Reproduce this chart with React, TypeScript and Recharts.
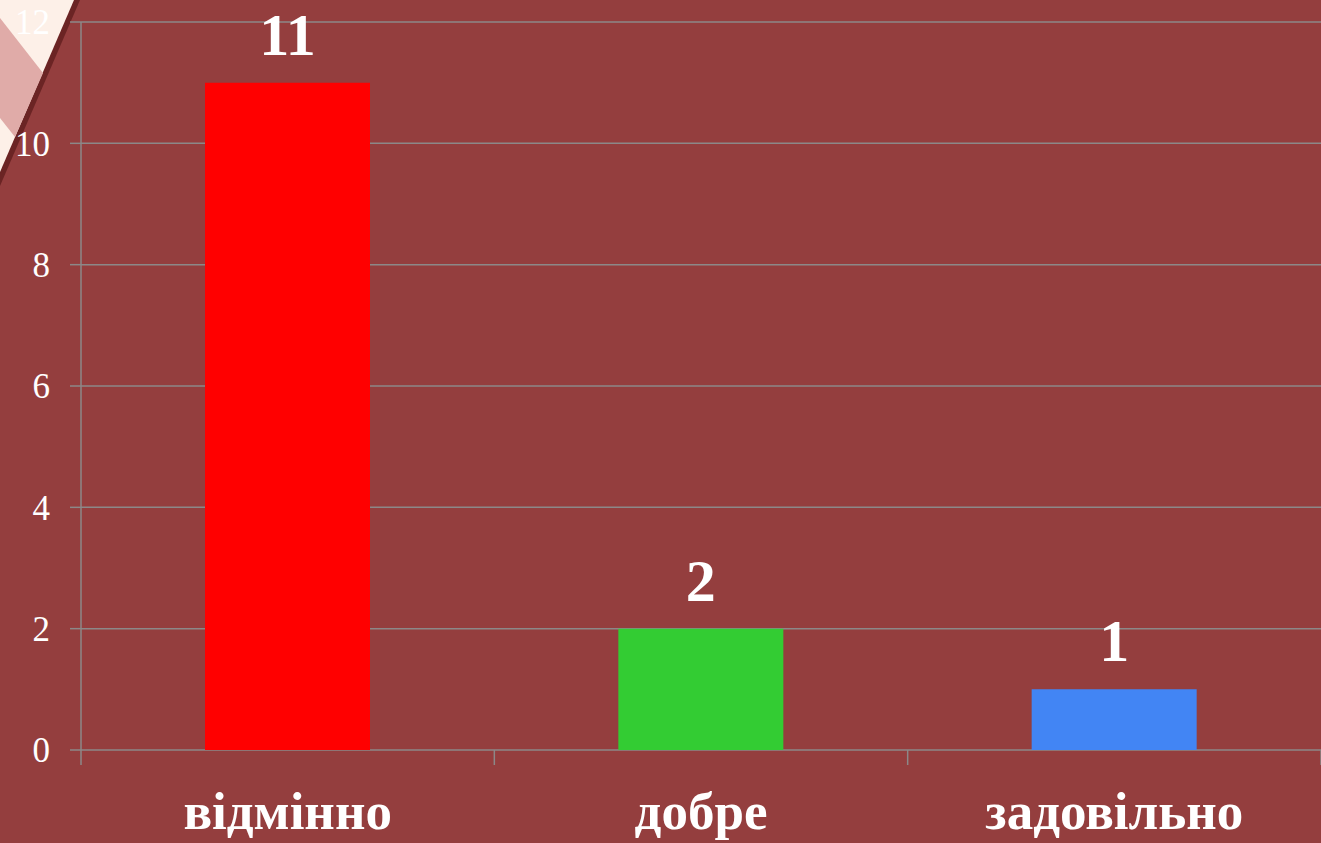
import { Bar, BarChart, CartesianGrid, Cell, LabelList, XAxis, YAxis } from 'recharts';

const grades = ['відмінно', 'добре', 'задовільно'];
const counts = [11, 2, 1];
const barColors = ['#FF0000', '#33CC33', '#4285F4'];
const yTicks = [0, 2, 4, 6, 8, 10, 12];
const bandEdges = [0, 1, 2, 3];

const BG = '#943E3E';
const GRID = '#8C8888';
const SERIF = '"Liberation Serif", "Times New Roman", serif';

const data = grades.map((g, i) => ({ grade: g, count: counts[i], slot: i + 0.5 }));

export default function App() {
  return (
    <div style={{ position: 'absolute', left: 0, top: 0, width: 1321, height: 843, background: BG, overflow: 'hidden' }}>
      {/* slide corner decoration */}
      <svg width={120} height={200} style={{ position: 'absolute', left: 0, top: 0 }}>
        <polygon points="0,0 80,0 0,186" fill="#6B2424" />
        <polygon points="0,0 74,0 0,172" fill="#FDF0E8" />
        <polygon points="0,18 43,73 15,137 0,118" fill="#E0ABA8" />
      </svg>
      <div style={{ position: 'absolute', left: 0, top: 0 }}>
        <BarChart width={1321} height={843} data={data} margin={{ top: 22, right: 0, bottom: 0, left: 0 }} barCategoryGap="30%">
          <CartesianGrid vertical={false} stroke={GRID} strokeWidth={1.5} xAxisId="cat" />
          <XAxis xAxisId="a" dataKey="slot" type="number" domain={[0, 3]} allowDataOverflow ticks={bandEdges} height={15}
            interval={0} tickFormatter={() => ''} tick={{ fontSize: 1 }}
            axisLine={false} tickLine={{ stroke: GRID, strokeWidth: 1.5 }} tickSize={15} />
          <XAxis xAxisId="cat" dataKey="grade" height={78} axisLine={false} tickLine={false} interval={0}
            tick={{ fill: '#FFFFFF', fontSize: 53, fontWeight: 'bold', fontFamily: SERIF }} dy={18} />
          <YAxis width={81} domain={[0, 12]} ticks={yTicks} axisLine={{ stroke: GRID, strokeWidth: 1.5 }}
            tickLine={{ stroke: GRID, strokeWidth: 1.5 }} tickSize={11}
            tick={{ fill: '#FFFFFF', fontSize: 35, fontFamily: SERIF }} dx={-18} />
          <Bar dataKey="count" xAxisId="cat" isAnimationActive={false}>
            {data.map((d, i) => <Cell key={d.grade} fill={barColors[i]} />)}
            <LabelList dataKey="count" position="top" offset={28} fill="#FFFFFF"
              style={{ fontSize: 60, fontWeight: 'bold', fontFamily: SERIF }} />
          </Bar>
        </BarChart>
      </div>
    </div>
  );
}
